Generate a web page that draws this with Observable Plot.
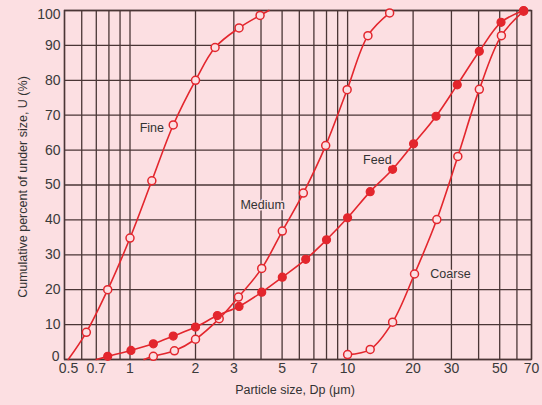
<!DOCTYPE html>
<html>
<head>
<meta charset="utf-8">
<script src="https://cdn.jsdelivr.net/npm/d3@7"></script>
<script src="https://cdn.jsdelivr.net/npm/@observablehq/plot@0.6"></script>
<style>
  html, body { margin: 0; padding: 0; background: #fcdfe2; }
  #chart { width: 542px; height: 405px; }
</style>
</head>
<body>
<div id="chart"></div>
<script>
// Tick labels and grid positions
const xTicks = [0.5, 0.7, 1, 2, 3, 5, 7, 10, 20, 30, 50, 70];
const xGrid = [0.5, 0.6, 0.7, 0.8, 0.9, 1, 2, 3, 4, 5, 6, 7, 8, 9, 10, 20, 30, 40, 50, 60, 70];
const yTicks = [0, 10, 20, 30, 40, 50, 60, 70, 80, 90, 100];

// Series (marked points)
const fineX = [0.63, 0.79, 1.0, 1.26, 1.58, 2.0, 2.46, 3.17, 3.96];
const fineY = [7.8, 20.0, 34.8, 51.2, 67.2, 80.0, 89.4, 95.0, 98.6];
const mediumX = [1.28, 1.6, 2.0, 2.57, 3.15, 4.03, 5.01, 6.26, 7.93, 9.95, 12.4, 15.6];
const mediumY = [0.9, 2.5, 5.8, 11.7, 17.9, 26.1, 36.8, 47.7, 61.3, 77.3, 92.8, 99.3];
const feedX = [0.79, 1.01, 1.28, 1.58, 2.0, 2.52, 3.17, 4.03, 5.01, 6.42, 8.0, 10.0, 12.7, 16.1, 20.1, 25.5, 31.9, 40.3, 50.7, 64.4];
const feedY = [0.9, 2.6, 4.5, 6.7, 9.3, 12.6, 15.2, 19.3, 23.6, 28.7, 34.3, 40.6, 48.1, 54.5, 61.8, 69.7, 78.7, 88.3, 96.6, 100];
const coarseX = [10.0, 12.7, 16.1, 20.3, 25.7, 32.1, 40.3, 50.9, 64.4];
const coarseY = [1.4, 2.9, 10.7, 24.5, 40.1, 58.2, 77.4, 92.8, 99.8];

// Unmarked curve ends (where the drawn line starts / stops)
const fineStart = [0.52, 0], fineEnd = [4.35, 100];
const mediumStart = [1.16, 0];
const feedStart = [0.70, 0];

// Curve labels
const labelText = ["Fine", "Medium", "Feed", "Coarse"];
const labelX = [1.26, 4.07, 13.7, 29.7];
const labelY = [66.2, 44.4, 57.3, 24.6];

const pts = (xs, ys) => xs.map((x, i) => ({x, y: ys[i]}));
const fine = pts(fineX, fineY);
const medium = pts(mediumX, mediumY);
const feed = pts(feedX, feedY);
const coarse = pts(coarseX, coarseY);
const fineLine = [{x: fineStart[0], y: fineStart[1]}, ...fine, {x: fineEnd[0], y: fineEnd[1]}];
const mediumLine = [{x: mediumStart[0], y: mediumStart[1]}, ...medium];
const feedLine = [{x: feedStart[0], y: feedStart[1]}, ...feed];
const labels = labelText.map((t, i) => ({t, x: labelX[i], y: labelY[i]}));

const red = "#e3262d";
const grid = "#4a3636";
const bg = "#fcdfe2";
const font = "Liberation Sans, Arial, sans-serif";
const tickFill = "#3a3a3a";

const lineOpts = {x: "x", y: "y", stroke: red, strokeWidth: 1.6, curve: "catmull-rom"};
const openDot = {x: "x", y: "y", r: 4, stroke: red, strokeWidth: 1.5, fill: bg};
const fillDot = {x: "x", y: "y", r: 4, stroke: red, strokeWidth: 1.2, fill: red};

const xMin = xTicks[0];
const yMin = yTicks[0], yMax = yTicks[yTicks.length - 1];

const chart = Plot.plot({
  width: 542,
  height: 405,
  marginTop: 10,
  marginRight: 11,
  marginBottom: 46,
  marginLeft: 64,
  style: {background: bg, fontFamily: font},
  x: {type: "log", domain: [0.5, 70], axis: null},
  y: {domain: [0, 100], axis: null},
  marks: [
    Plot.ruleX(xGrid, {stroke: grid, strokeWidth: 1.3}),
    Plot.ruleY(yTicks, {stroke: grid, strokeWidth: 1.3}),
    Plot.frame({stroke: grid, strokeWidth: 1.4}),
    // x tick labels (first one nudged right, as in the reference)
    Plot.text(xTicks.filter(d => d !== xMin), {x: d => d, text: d => String(d), frameAnchor: "bottom", dy: 13, fontSize: 14, fill: tickFill}),
    Plot.text([xMin], {x: d => d, text: d => String(d), frameAnchor: "bottom", dx: 4, dy: 13, fontSize: 14, fill: tickFill}),
    // y tick labels (ends nudged inward)
    Plot.text(yTicks.filter(d => d !== yMin && d !== yMax), {y: d => d, text: d => String(d), frameAnchor: "left", textAnchor: "end", dx: -4, fontSize: 14, fill: tickFill}),
    Plot.text([yMin], {y: d => d, text: d => String(d), frameAnchor: "left", textAnchor: "end", dx: -5, dy: -3, fontSize: 14, fill: tickFill}),
    Plot.text([yMax], {y: d => d, text: d => String(d), frameAnchor: "left", textAnchor: "end", dx: -4, dy: 4, fontSize: 14, fill: tickFill}),
    Plot.line(fineLine, lineOpts),
    Plot.line(mediumLine, lineOpts),
    Plot.line(feedLine, lineOpts),
    Plot.line(coarse, lineOpts),
    Plot.dot(fine, openDot),
    Plot.dot(medium, openDot),
    Plot.dot(coarse, openDot),
    Plot.dot(feed, fillDot),
    Plot.text(labels, {x: "x", y: "y", text: "t", fontSize: 12.5, fill: "#333", stroke: bg, strokeWidth: 3, paintOrder: "stroke"}),
    Plot.text(["Cumulative percent of under size, U (%)"], {frameAnchor: "left", textAnchor: "middle", dx: -42, dy: 2, rotate: -90, fontSize: 12.5, fill: "#333"}),
    Plot.text(["Particle size, Dp (\u03bcm)"], {frameAnchor: "bottom", dy: 34, dx: -3, fontSize: 12.5, fill: "#333"})
  ]
});
document.getElementById("chart").appendChild(chart);
</script>
</body>
</html>
